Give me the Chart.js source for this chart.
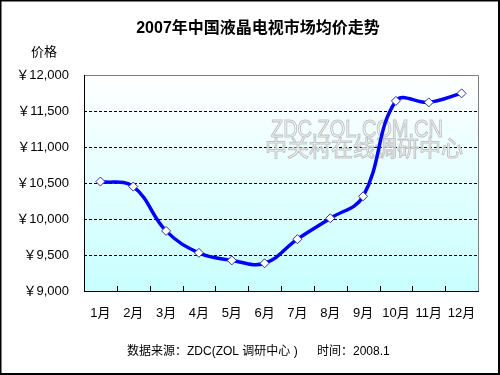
<!DOCTYPE html>
<html>
<head>
<meta charset="utf-8">
<script src="https://cdn.jsdelivr.net/npm/chart.js@4/dist/chart.umd.min.js"></script>
<style>
html,body{margin:0;padding:0;background:#fff;}
#wrap{width:500px;height:375px;position:relative;}
</style>
</head>
<body>
<div id="wrap"><canvas id="c" width="500" height="375"></canvas></div>
<script>
const months = ['1月','2月','3月','4月','5月','6月','7月','8月','9月','10月','11月','12月'];
const prices = [10520, 10450, 9835, 9530, 9425, 9385, 9720, 10010, 10315, 11640, 11620, 11745];
const yTicks = [9000, 9500, 10000, 10500, 11000, 11500, 12000];
const titleText = '2007年中国液晶电视市场均价走势';
const yAxisTitle = '价格';
const sourceText = '数据来源：ZDC(ZOL 调研中心 )';
const timeText = '时间：2008.1';
const watermark1 = 'ZDC.ZOL.COM.CN';
const watermark2 = '中关村在线调研中心';

const FONT = '"Liberation Sans", Arial, "Noto Sans CJK SC", sans-serif';

const decor = {
  id: 'decor',
  beforeDraw(chart) {
    const ctx = chart.ctx, a = chart.chartArea;
    ctx.save();
    ctx.fillStyle = '#ffffff';
    ctx.fillRect(0, 0, chart.width, chart.height);
    const g = ctx.createLinearGradient(0, a.top, 0, a.bottom);
    g.addColorStop(0, '#ffffff');
    g.addColorStop(1, '#c8ffff');
    ctx.fillStyle = g;
    ctx.fillRect(a.left, a.top, a.right - a.left, a.bottom - a.top);
    ctx.restore();
  },
  beforeDatasetsDraw(chart) {
    const ctx = chart.ctx;
    ctx.save();
    ctx.lineWidth = 1;
    ctx.strokeStyle = '#c4c4c4';
    ctx.fillStyle = 'rgba(255,255,255,0.7)';
    ctx.textBaseline = 'alphabetic';
    ctx.textAlign = 'left';
    ctx.save();
    ctx.translate(271, 137);
    ctx.scale(0.95, 1.15);
    ctx.font = '21px ' + FONT;
    ctx.fillText(watermark1, 0, 0);
    ctx.strokeText(watermark1, 0, 0);
    ctx.restore();
    ctx.font = '22px "Noto Sans CJK SC", sans-serif';
    ctx.fillText(watermark2, 265, 156);
    ctx.strokeText(watermark2, 265, 156);
    ctx.restore();
  },
  afterDraw(chart) {
    const ctx = chart.ctx, a = chart.chartArea;
    const xs = chart.scales.x;
    ctx.save();
    ctx.strokeStyle = '#808080';
    ctx.lineWidth = 1;
    ctx.beginPath();
    ctx.moveTo(a.left, a.top + 0.5);
    ctx.lineTo(a.right + 0.5, a.top + 0.5);
    ctx.lineTo(a.right + 0.5, a.bottom);
    ctx.stroke();
    ctx.strokeStyle = '#000000';
    ctx.beginPath();
    ctx.moveTo(a.left + 0.5, a.top);
    ctx.lineTo(a.left + 0.5, a.bottom + 0.5);
    ctx.stroke();
    ctx.beginPath();
    for (let i = 0; i < months.length - 1; i++) {
      const x = Math.round((xs.getPixelForValue(i) + xs.getPixelForValue(i + 1)) / 2) + 0.5;
      ctx.moveTo(x, a.bottom);
      ctx.lineTo(x, a.bottom - 5);
    }
    ctx.stroke();
    ctx.fillStyle = '#000';
    ctx.textAlign = 'center';
    ctx.textBaseline = 'middle';
    ctx.font = 'bold 16px ' + FONT;
    ctx.fillText(titleText, 258, 29);
    ctx.font = '13px ' + FONT;
    ctx.fillText(yAxisTitle, 44, 52);
    ctx.textAlign = 'left';
    ctx.font = '12px ' + FONT;
    ctx.fillText(sourceText, 127, 352);
    ctx.fillText(timeText, 317, 352);
    ctx.lineWidth = 2;
    ctx.strokeStyle = '#000';
    ctx.strokeRect(0.5, 0.5, chart.width - 1.5, chart.height - 1.5);
    ctx.restore();
  }
};

new Chart(document.getElementById('c'), {
  type: 'line',
  data: {
    labels: months,
    datasets: [{
      data: prices,
      borderColor: '#0000ff',
      borderWidth: 3.5,
      tension: 0.4,
      pointStyle: 'rectRot',
      pointRadius: 4.5,
      pointBackgroundColor: '#ffffff',
      pointBorderColor: '#333399',
      pointBorderWidth: 1,
      fill: false
    }]
  },
  options: {
    responsive: false,
    animation: false,
    devicePixelRatio: 1,
    layout: { padding: { left: 0, top: 75, right: 22, bottom: 0 } },
    plugins: { legend: { display: false }, title: { display: false }, tooltip: { enabled: false } },
    scales: {
      x: {
        offset: true,
        grid: { display: false, drawTicks: false },
        border: { display: true, color: '#000', width: 1 },
        ticks: { color: '#000', font: { size: 13, family: FONT }, padding: 15, maxRotation: 0, autoSkip: false },
        afterFit(s) { s.height = 84; }
      },
      y: {
        min: 9000, max: 12000,
        afterBuildTicks(s) { s.ticks = yTicks.map(v => ({ value: v })); },
        grid: {
          drawTicks: false,
          color: (c) => (c.tick && (c.tick.value === 9000 || c.tick.value === 12000)) ? 'rgba(0,0,0,0)' : '#000',
          lineWidth: 1
        },
        border: { display: false, dash: [3, 2] },
        ticks: {
          color: '#000',
          padding: 15,
          font: { size: 13, family: FONT },
          callback: (v) => '￥' + Number(v).toLocaleString('en-US')
        },
        afterFit(s) { s.width = 84; }
      }
    }
  },
  plugins: [decor]
});
</script>
</body>
</html>
